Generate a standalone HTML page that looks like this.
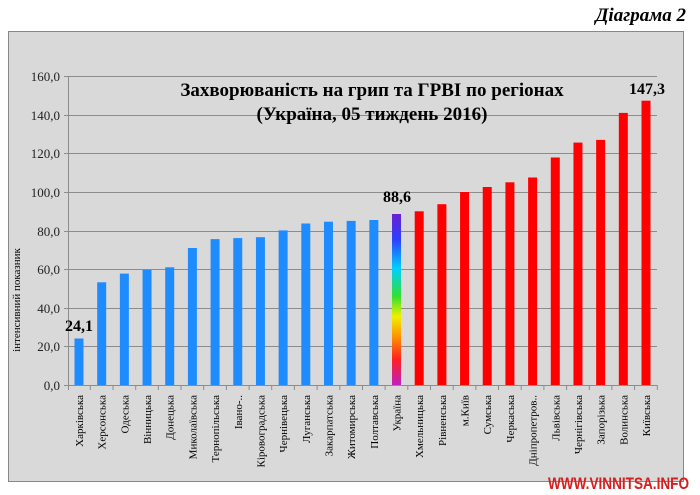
<!DOCTYPE html>
<html><head><meta charset="utf-8"><style>
body{margin:0;background:#fff;width:700px;height:495px;overflow:hidden}
svg{display:block}
</style></head><body>
<svg width="700" height="495" xmlns="http://www.w3.org/2000/svg" font-family="Liberation Serif, serif">
<defs>
<linearGradient id="rb" x1="0" y1="0" x2="0" y2="1">
<stop offset="0" stop-color="#6a1fd0"/>
<stop offset="0.15" stop-color="#2a40ff"/>
<stop offset="0.32" stop-color="#00d0ff"/>
<stop offset="0.48" stop-color="#30e030"/>
<stop offset="0.6" stop-color="#f0f000"/>
<stop offset="0.72" stop-color="#ff9000"/>
<stop offset="0.85" stop-color="#ff2020"/>
<stop offset="1" stop-color="#c020c0"/>
</linearGradient>
</defs>
<text x="686" y="21" text-anchor="end" font-size="19" font-style="italic" font-weight="bold">Діаграма 2</text>
<rect x="8.5" y="31.5" width="675" height="450" fill="#d9d9d9" stroke="#888" stroke-width="1"/>
<g stroke="#8c8c8c" stroke-width="1">
<line x1="64" y1="76.5" x2="657" y2="76.5"/>
<line x1="64" y1="115.5" x2="657" y2="115.5"/>
<line x1="64" y1="153.5" x2="657" y2="153.5"/>
<line x1="64" y1="192.5" x2="657" y2="192.5"/>
<line x1="64" y1="231.5" x2="657" y2="231.5"/>
<line x1="64" y1="269.5" x2="657" y2="269.5"/>
<line x1="64" y1="308.5" x2="657" y2="308.5"/>
<line x1="64" y1="346.5" x2="657" y2="346.5"/>
<line x1="64" y1="385.5" x2="657" y2="385.5"/>
<line x1="68.5" y1="76" x2="68.5" y2="390"/>
</g>
<g font-size="13" text-anchor="end" fill="#222">
<text x="60" y="81">160,0</text><text x="60" y="120">140,0</text><text x="60" y="158">120,0</text><text x="60" y="197">100,0</text><text x="60" y="236">80,0</text><text x="60" y="274">60,0</text><text x="60" y="313">40,0</text><text x="60" y="351">20,0</text><text x="60" y="390">0,0</text>
</g>
<text transform="translate(20,300) rotate(-90)" font-size="11" text-anchor="middle">інтенсивний показник</text>
<text x="372" y="96" text-anchor="middle" font-size="19" font-weight="bold">Захворюваність на грип та ГРВІ по регіонах</text>
<text x="372" y="120" text-anchor="middle" font-size="19" font-weight="bold">(Україна, 05 тиждень 2016)</text>
<g fill="#1e8cff">
<rect x="74.5" y="338.5" width="9" height="46.5"/>
<rect x="97.18" y="282.3" width="9" height="102.7"/>
<rect x="119.86" y="273.6" width="9" height="111.4"/>
<rect x="142.54" y="270" width="9" height="115"/>
<rect x="165.22" y="267.3" width="9" height="117.7"/>
<rect x="187.9" y="248" width="9" height="137"/>
<rect x="210.58" y="239.1" width="9" height="145.9"/>
<rect x="233.26" y="238.1" width="9" height="146.9"/>
<rect x="255.94" y="237.2" width="9" height="147.8"/>
<rect x="278.62" y="230.4" width="9" height="154.6"/>
<rect x="301.3" y="223.5" width="9" height="161.5"/>
<rect x="323.98" y="221.7" width="9" height="163.3"/>
<rect x="346.66" y="220.9" width="9" height="164.1"/>
<rect x="369.34" y="220" width="9" height="165"/>
</g>
<rect x="392.02" y="214" width="9" height="171" fill="url(#rb)"/>
<g fill="#ff0000">
<rect x="414.7" y="211.3" width="9" height="173.7"/>
<rect x="437.38" y="204.2" width="9" height="180.8"/>
<rect x="460.06" y="192" width="9" height="193"/>
<rect x="482.74" y="187" width="9" height="198"/>
<rect x="505.42" y="182.3" width="9" height="202.7"/>
<rect x="528.1" y="177.5" width="9" height="207.5"/>
<rect x="550.78" y="157.5" width="9" height="227.5"/>
<rect x="573.46" y="142.6" width="9" height="242.4"/>
<rect x="596.14" y="139.9" width="9" height="245.1"/>
<rect x="618.82" y="112.9" width="9" height="272.1"/>
<rect x="641.5" y="100.7" width="9" height="284.3"/>
</g>
<g stroke="#8c8c8c">
<line x1="90.3" y1="385" x2="90.3" y2="390"/><line x1="113" y1="385" x2="113" y2="390"/><line x1="135.7" y1="385" x2="135.7" y2="390"/><line x1="158.3" y1="385" x2="158.3" y2="390"/><line x1="181" y1="385" x2="181" y2="390"/><line x1="203.7" y1="385" x2="203.7" y2="390"/><line x1="226.4" y1="385" x2="226.4" y2="390"/><line x1="249.1" y1="385" x2="249.1" y2="390"/><line x1="271.7" y1="385" x2="271.7" y2="390"/><line x1="294.4" y1="385" x2="294.4" y2="390"/><line x1="317.1" y1="385" x2="317.1" y2="390"/><line x1="339.8" y1="385" x2="339.8" y2="390"/><line x1="362.5" y1="385" x2="362.5" y2="390"/><line x1="385.1" y1="385" x2="385.1" y2="390"/><line x1="407.8" y1="385" x2="407.8" y2="390"/><line x1="430.5" y1="385" x2="430.5" y2="390"/><line x1="453.2" y1="385" x2="453.2" y2="390"/><line x1="475.9" y1="385" x2="475.9" y2="390"/><line x1="498.5" y1="385" x2="498.5" y2="390"/><line x1="521.2" y1="385" x2="521.2" y2="390"/><line x1="543.9" y1="385" x2="543.9" y2="390"/><line x1="566.6" y1="385" x2="566.6" y2="390"/><line x1="589.3" y1="385" x2="589.3" y2="390"/><line x1="611.9" y1="385" x2="611.9" y2="390"/><line x1="634.6" y1="385" x2="634.6" y2="390"/><line x1="657.3" y1="385" x2="657.3" y2="390"/>
</g>
<g font-size="11" text-anchor="end">
<text transform="translate(83,395) rotate(-90)">Харківська</text>
<text transform="translate(105.7,395) rotate(-90)">Херсонська</text>
<text transform="translate(128.4,395) rotate(-90)">Одеська</text>
<text transform="translate(151,395) rotate(-90)">Вінницька</text>
<text transform="translate(173.7,395) rotate(-90)">Донецька</text>
<text transform="translate(196.4,395) rotate(-90)">Миколаївська</text>
<text transform="translate(219.1,395) rotate(-90)">Тернопільська</text>
<text transform="translate(241.8,395) rotate(-90)">Івано-..</text>
<text transform="translate(264.4,395) rotate(-90)">Кіровоградська</text>
<text transform="translate(287.1,395) rotate(-90)">Чернівецька</text>
<text transform="translate(309.8,395) rotate(-90)">Луганська</text>
<text transform="translate(332.5,395) rotate(-90)">Закарпатська</text>
<text transform="translate(355.2,395) rotate(-90)">Житомирська</text>
<text transform="translate(377.8,395) rotate(-90)">Полтавська</text>
<text transform="translate(400.5,395) rotate(-90)">Україна</text>
<text transform="translate(423.2,395) rotate(-90)">Хмельницька</text>
<text transform="translate(445.9,395) rotate(-90)">Рівненська</text>
<text transform="translate(468.6,395) rotate(-90)">м.Київ</text>
<text transform="translate(491.2,395) rotate(-90)">Сумська</text>
<text transform="translate(513.9,395) rotate(-90)">Черкаська</text>
<text transform="translate(536.6,395) rotate(-90)">Дніпропетров..</text>
<text transform="translate(559.3,395) rotate(-90)">Львівська</text>
<text transform="translate(582,395) rotate(-90)">Чернігівська</text>
<text transform="translate(604.6,395) rotate(-90)">Запорізька</text>
<text transform="translate(627.3,395) rotate(-90)">Волинська</text>
<text transform="translate(650,395) rotate(-90)">Київська</text>
</g>
<text x="79" y="331" text-anchor="middle" font-size="16" font-weight="bold">24,1</text>
<text x="397" y="202" text-anchor="middle" font-size="16" font-weight="bold">88,6</text>
<text x="647" y="94" text-anchor="middle" font-size="16" font-weight="bold">147,3</text>
<text x="548" y="489" font-family="Liberation Sans, sans-serif" font-size="17" font-weight="bold" fill="#d42020" textLength="141" lengthAdjust="spacingAndGlyphs">WWW.VINNITSA.INFO</text>
</svg>
</body></html>
